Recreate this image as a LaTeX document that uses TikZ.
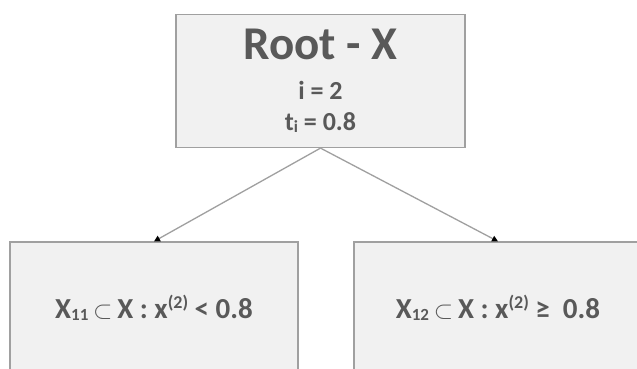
\documentclass[tikz,border=0pt]{standalone}
\usepackage{fontspec}
\setmainfont{Carlito}
\usetikzlibrary{arrows.meta}
\definecolor{boxfill}{HTML}{F1F1F1}
\definecolor{boxline}{HTML}{A0A0A0}
\definecolor{inktext}{HTML}{595959}
\definecolor{edgeline}{HTML}{A0A0A0}
\newcommand{\lowidx}[1]{\raisebox{-2pt}{\fontsize{17}{17}\selectfont #1}}
\newcommand{\highidx}[1]{\raisebox{10pt}{\fontsize{18}{18}\selectfont #1}}
\begin{document}
\begin{tikzpicture}[x=1pt,y=1pt,
  treebox/.style={draw=boxline, fill=boxfill, line width=1.2pt,
    text=inktext, font=\bfseries, inner sep=0pt, align=center},
  edge/.style={draw=edgeline, line width=1.3pt,
    -{Triangle[length=6pt,width=6pt,black]}}]
  \useasboundingbox (0,0) rectangle (637,368);
  \fill[white] (0,0) rectangle (637,368);

  % root of the tree
  \node[treebox, minimum width=289pt, minimum height=133pt,
        font=\bfseries\fontsize{26}{31}\selectfont] (root) at (320.5,287)
    {{\fontsize{47}{47}\selectfont Root - X}\\[9pt]
     i = 2\\
     t\lowidx{i} = 0.8};

  % the two children
  \node[treebox, minimum width=288pt, minimum height=132pt,
        font=\bfseries\fontsize{29}{34}\selectfont] (left) at (154,60)
    {X\lowidx{11}\,$\subset$\,X : x\highidx{(2)} < 0.8};
  \node[treebox, minimum width=288pt, minimum height=132pt,
        font=\bfseries\fontsize{29}{34}\selectfont] (right) at (498,60)
    {X\lowidx{12}\,$\subset$\,X : x\highidx{(2)} ≥~ 0.8};

  \draw[edge] (root.south) -- (left.north);
  \draw[edge] (root.south) -- (right.north);
\end{tikzpicture}
\end{document}
